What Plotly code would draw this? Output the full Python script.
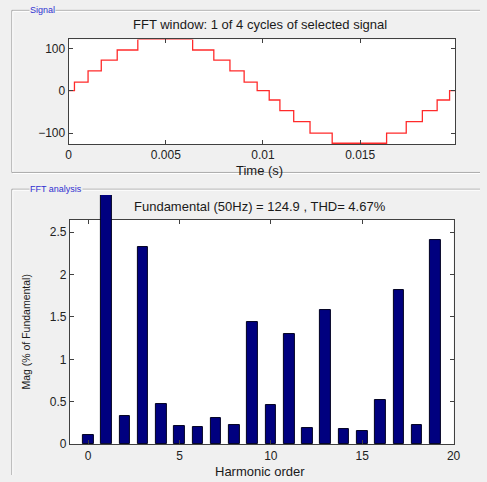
import plotly.graph_objects as go

# ---- data ----
sig_t = [0, 0.0003, 0.0010, 0.00168, 0.0025, 0.00356, 0.00638, 0.00747, 0.0083, 0.00903,
         0.0097, 0.01032, 0.01087, 0.01158, 0.01242, 0.01356, 0.01636, 0.01737, 0.0182,
         0.01896, 0.0196, 0.02]
sig_v = [0, 20, 47, 72, 96, 121, 96, 72, 47, 20, 0, -22, -47, -73, -100, -124, -100,
         -73, -47, -22, 0, 0]

harm_order = list(range(20))
harm_mag = [0.11, 100, 0.33, 2.32, 0.47, 0.21, 0.20, 0.31, 0.225, 1.44, 0.465, 1.30,
            0.19, 1.58, 0.18, 0.16, 0.52, 1.82, 0.23, 2.41]

sig_xticks = [0, 0.005, 0.01, 0.015]
sig_xlabels = ["0", "0.005", "0.01", "0.015"]
sig_yticks = [-100, 0, 100]
fft_xticks = [0, 5, 10, 15, 20]
fft_yticks = [0, 0.5, 1, 1.5, 2, 2.5]
fft_ylabels = ["0", "0.5", "1", "1.5", "2", "2.5"]

W, H = 487, 482

def px(x):
    return x / W

def py(y):
    return 1 - y / H

# layout constants (pixels)
top_l, top_r, top_t, top_b = 67, 461.5, 40, 146
bot_l, bot_r, bot_t, bot_b = 68.3, 460, 223.3, 450.7
ext_t = 198
fft_ymax = 2.643
ext_ymax = fft_ymax * (bot_b - ext_t) / (bot_b - bot_t)

fig = go.Figure()

fig.add_trace(go.Scatter(x=sig_t, y=sig_v, mode="lines", line=dict(color="#ff2a2a", width=1.3, shape="hv"),
                         xaxis="x", yaxis="y", showlegend=False, hoverinfo="skip"))

bar_marker = dict(color="#00007f", line=dict(color="#000020", width=1))
# harmonics (all but the fundamental) in the normal axes
fig.add_trace(go.Bar(x=[h for h in harm_order if h != 1],
                     y=[m for h, m in zip(harm_order, harm_mag) if h != 1],
                     width=0.58, marker=bar_marker, xaxis="x2", yaxis="y2", showlegend=False))
# the fundamental bar, in an overlay axes of the same scale that extends higher (clipped there)
fig.add_trace(go.Bar(x=[1], y=[harm_mag[1]], width=0.58, marker=bar_marker,
                     xaxis="x3", yaxis="y3", showlegend=False))

tickfont = dict(family="Liberation Sans, Arial", size=12, color="#222222")
axcommon = dict(showline=True, linecolor="#404040", linewidth=1, mirror="ticks", ticks="inside",
                ticklen=4, tickcolor="#404040", showgrid=False, zeroline=False, tickfont=tickfont)

fig.update_layout(
    width=W, height=H, margin=dict(l=0, r=0, t=0, b=0),
    paper_bgcolor="#f0f0f0", plot_bgcolor="rgba(0,0,0,0)", bargap=0,
    xaxis=dict(domain=[px(top_l), px(top_r)], range=[0, 0.01988], anchor="y",
               tickvals=sig_xticks, ticktext=sig_xlabels, **axcommon),
    yaxis=dict(domain=[py(top_b), py(top_t)], range=[-125.5, 121], anchor="x",
               tickvals=sig_yticks, **axcommon),
    xaxis2=dict(domain=[px(bot_l), px(bot_r)], range=[-1, 20], anchor="y2",
                tickvals=fft_xticks, **axcommon),
    yaxis2=dict(domain=[py(bot_b), py(bot_t)], range=[0, fft_ymax], anchor="x2",
                tickvals=fft_yticks, ticktext=fft_ylabels, **axcommon),
    xaxis3=dict(domain=[px(bot_l), px(bot_r)], range=[-1, 20], anchor="y3", visible=False),
    yaxis3=dict(domain=[py(bot_b), py(ext_t)], range=[0, ext_ymax], anchor="x3", visible=False),
)

# white plot-area backgrounds
for xa, ya in (("x", "y"), ("x2", "y2")):
    fig.add_shape(type="rect", xref=f"{xa} domain", yref=f"{ya} domain", x0=0, x1=1, y0=0, y1=1,
                  fillcolor="white", line=dict(width=0), layer="below")

txtfont = dict(family="Liberation Sans, Arial", size=13, color="#1a1a1a")
ann = [
    dict(text="FFT window: 1 of 4 cycles of selected signal", x=px(262), y=py(25), font=txtfont),
    dict(text="Time (s)", x=px(262), y=py(173), font=txtfont),
    dict(text="Fundamental (50Hz) = 124.9 , THD= 4.67%", x=px(262), y=py(210), font=txtfont),
    dict(text="Harmonic order", x=px(262), y=py(478), font=txtfont),
    dict(text="Mag (% of Fundamental)", x=px(24), y=py(337), textangle=-90,
         font=dict(family="Liberation Sans, Arial", size=10.5, color="#1a1a1a")),
    dict(text="Signal", x=px(27), y=py(10.5), xanchor="left", bgcolor="#f0f0f0",
         font=dict(family="Liberation Sans, Arial", size=9, color="#3030d0")),
    dict(text="FFT analysis", x=px(27), y=py(192), xanchor="left", bgcolor="#f0f0f0",
         font=dict(family="Liberation Sans, Arial", size=9, color="#3030d0")),
]
for a in ann:
    a.setdefault("xanchor", "center")
    fig.add_annotation(xref="paper", yref="paper", yanchor="middle", showarrow=False,
                       borderpad=0, **a)

frame = dict(color="#a8a8a8", width=1)
lines = [
    (9, 10.5, 487, 10.5), (9, 10.5, 9, 175), (9, 175, 487, 175),
    (9, 192, 487, 192), (9, 192, 9, 482),
]
for x0, y0, x1, y1 in lines:
    fig.add_shape(type="line", xref="paper", yref="paper", x0=px(x0), y0=py(y0), x1=px(x1), y1=py(y1),
                  line=frame, layer="below")
    fig.add_shape(type="line", xref="paper", yref="paper", x0=px(x0 + 1), y0=py(y0 + 1),
                  x1=px(x1 + 1 if x1 == x0 else x1), y1=py(y1 + 1 if y1 == y0 else y1),
                  line=dict(color="#ffffff", width=1), layer="below")

fig.write_html("out.html")
